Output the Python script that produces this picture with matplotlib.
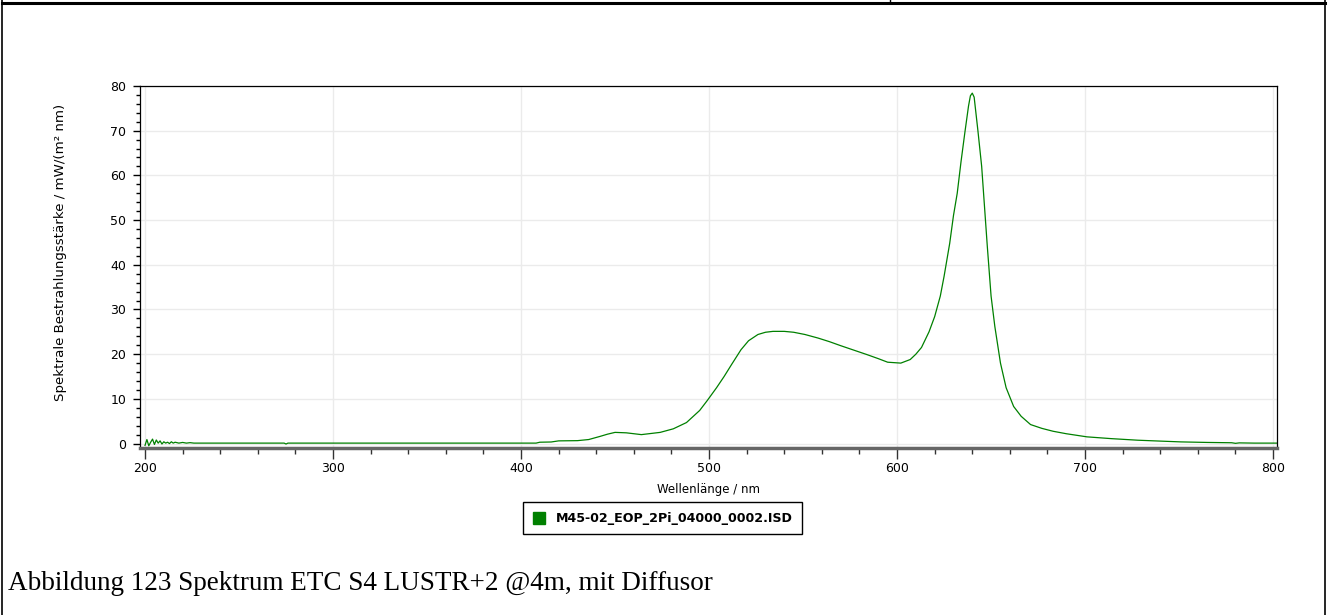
import matplotlib.pyplot as plt
from matplotlib.lines import Line2D
from matplotlib.ticker import MultipleLocator

# ------------------------------------------------------------ #
#                          Data                                 #
# ------------------------------------------------------------ #
wavelength = [200, 201, 202, 203, 204, 205, 206, 207, 208, 209, 210, 211, 212, 213,
              214, 215, 216, 218, 220, 222, 224, 226, 230, 240, 260, 274, 275, 276,
              300, 350, 400, 408, 410, 416, 420, 430, 436, 442, 446, 450, 456, 460,
              464, 470, 474, 481, 488, 495, 499, 504, 508, 512, 517, 521, 526, 530,
              534, 540, 545, 551, 558, 564, 570, 577, 584, 590, 595, 602, 607, 610,
              613, 617, 620, 623, 625, 628, 630, 632, 634, 636, 638, 639, 640, 641,
              643, 645, 648, 650, 652, 655, 658, 662, 666, 671, 677, 683, 690, 701,
              714, 728, 740, 751, 765, 778, 780, 782, 790, 802]
irradiance = [-0.4, 0.9, -0.5, 0.3, 1.0, -0.2, 0.8, 0.1, 0.6, -0.1, 0.4, 0.1, 0.3, 0.0,
              0.4, 0.1, 0.3, 0.1, 0.25, 0.1, 0.2, 0.1, 0.1, 0.1, 0.1, 0.1, -0.1, 0.1,
              0.1, 0.1, 0.1, 0.1, 0.3, 0.35, 0.6, 0.65, 0.9, 1.6, 2.1, 2.5, 2.4, 2.2,
              2.0, 2.3, 2.5, 3.3, 4.7, 7.4, 9.6, 12.5, 15.0, 17.7, 21.0, 23.0, 24.4, 24.9,
              25.1, 25.1, 24.9, 24.4, 23.6, 22.8, 21.9, 20.9, 19.9, 19.0, 18.2, 18.0, 18.8, 20.0,
              21.5, 25.0, 28.4, 33.0, 37.4, 44.8, 51.0, 56.0, 63.0, 69.4, 75.5, 77.8, 78.4, 77.5,
              70.0, 62.0, 44.1, 33.0, 26.2, 18.0, 12.5, 8.3, 6.1, 4.25, 3.4, 2.75, 2.2, 1.5,
              1.1, 0.75, 0.55, 0.37, 0.25, 0.18, 0.05, 0.15, 0.1, 0.1]

series_label = "M45-02_EOP_2Pi_04000_0002.ISD"
x_label = "Wellenlänge / nm"
y_label = "Spektrale Bestrahlungsstärke / mW/(m² nm)"
caption = "Abbildung 123 Spektrum ETC S4 LUSTR+2 @4m, mit Diffusor"

# ------------------------------------------------------------ #
#                          Figure                               #
# ------------------------------------------------------------ #
fig = plt.figure(figsize=(13.29, 6.15), dpi=100)
ax = fig.add_axes([0.1053, 0.2715, 0.8556, 0.5887])

ax.plot(wavelength, irradiance, color='#008000', lw=0.9, label=series_label)

ax.set_xlim(197.3, 802.1)
ax.set_ylim(-1, 80)
ax.xaxis.set_major_locator(MultipleLocator(100))
ax.xaxis.set_minor_locator(MultipleLocator(20))
ax.yaxis.set_major_locator(MultipleLocator(10))
ax.yaxis.set_minor_locator(MultipleLocator(2))
ax.grid(True, which='major', color='#ebebeb', lw=1.0)
ax.set_axisbelow(True)

ax.tick_params(axis='x', which='major', length=8, width=1, color='#333333', labelsize=9, pad=2)
ax.tick_params(axis='x', which='minor', length=4, width=1, color='#333333')
ax.tick_params(axis='y', which='major', length=5, width=1, color='black', labelsize=9, pad=5)
ax.tick_params(axis='y', which='minor', length=3, width=1, color='black')

for side in ['top', 'right', 'left']:
    ax.spines[side].set_color('black')
    ax.spines[side].set_linewidth(0.9)
ax.spines['bottom'].set_color('#666666')
ax.spines['bottom'].set_linewidth(2.5)

ax.set_xlabel(x_label, fontsize=8.5, labelpad=6)
ax.set_ylabel(y_label, fontsize=9.6)
ax.yaxis.set_label_coords(-0.064, 0.54)

handle = Line2D([], [], color='#008000', marker='s', markersize=9, ls='none')
fig.legend([handle], [series_label], loc='center', bbox_to_anchor=(0.4985, 0.157),
           prop={'weight': 'bold', 'size': 9.1}, frameon=True, fancybox=False,
           edgecolor='black', handlelength=1.0, handletextpad=0.8, borderpad=0.75,
           borderaxespad=0, framealpha=1)

fig.text(8 / 1329, 1 - 584 / 615, caption, fontsize=19.5, family='Liberation Serif',
         va='center', ha='left')

# table borders around the figure
fig.add_artist(Line2D([2 / 1329, 2 / 1329], [0, 1], color='black', lw=1.2))
fig.add_artist(Line2D([1325 / 1329, 1325 / 1329], [0, 1], color='black', lw=1.2))
fig.add_artist(Line2D([2 / 1329, 1325 / 1329], [1 - 3 / 615, 1 - 3 / 615], color='black', lw=2.2))
fig.add_artist(Line2D([890 / 1329, 890 / 1329], [1 - 3 / 615, 1], color='black', lw=1.0))

fig.savefig('out.png', dpi=100)
